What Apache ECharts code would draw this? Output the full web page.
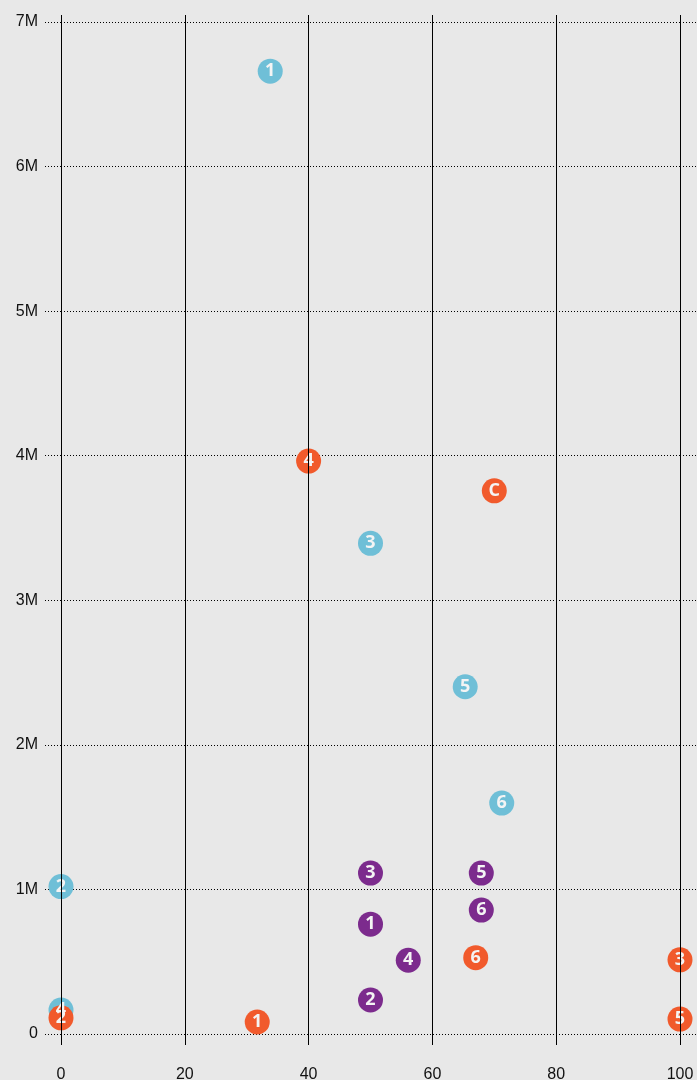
<!DOCTYPE html>
<html>
<head>
<meta charset="utf-8">
<script src="https://cdn.jsdelivr.net/npm/echarts@6/dist/echarts.min.js"></script>
<style>
html,body{margin:0;padding:0;background:#e8e8e8;}
#c{width:697px;height:1080px;}
</style>
</head>
<body>
<div id="c"></div>
<script>
// Data
const xTicks = [0, 20, 40, 60, 80, 100];
const yTickLabels = ['0', '1M', '2M', '3M', '4M', '5M', '6M', '7M'];

const blueNames = ['1', '2', '3', '4', '5', '6'];
const blueX = [33.8, 0, 50, 0, 65.3, 71.2];
const blueY = [6660000, 1020000, 3394000, 166000, 2402000, 1597000];

const purpleNames = ['1', '2', '3', '4', '5', '6'];
const purpleX = [50, 50, 50, 56.1, 67.9, 67.9];
const purpleY = [760000, 235000, 1113000, 510000, 1113000, 857000];

const orangeNames = ['1', '2', '3', '4', '5', '6', 'C'];
const orangeX = [31.7, 0, 100, 40, 100, 67, 70];
const orangeY = [83000, 112000, 513000, 3963000, 103000, 528000, 3757000];

function pts(names, xs, ys) {
  return names.map((n, i) => ({ name: n, value: [xs[i], ys[i]] }));
}

const chart = echarts.init(document.getElementById('c'));
const font = 'Liberation Sans, Arial, sans-serif';

function mkSeries(names, xs, ys, color) {
  return {
    type: 'scatter',
    data: pts(names, xs, ys),
    symbol: 'circle',
    symbolSize: 25,
    itemStyle: { color: color, opacity: 1 },
    label: {
      show: true,
      position: 'inside',
      formatter: p => p.name,
      color: '#f4f4f4',
      fontFamily: 'Open Sans, sans-serif',
      fontWeight: 'bold',
      fontSize: 18
    },
    emphasis: { disabled: true },
    z: 2
  };
}

chart.setOption({
  backgroundColor: '#e8e8e8',
  animation: false,
  grid: { left: 61, right: 17, top: 22, bottom: 46, containLabel: false, outerBoundsMode: 'none' },
  xAxis: [
    {
      type: 'value', min: 0, max: 100, interval: 20, position: 'bottom', z: 3,
      axisLine: { show: false, onZero: false },
      axisTick: { show: true, length: 11, lineStyle: { color: '#000', width: 1 } },
      axisLabel: { margin: 33, fontSize: 16, color: '#111', fontFamily: font },
      splitLine: { show: true, lineStyle: { color: '#000', width: 1, type: 'solid' } }
    },
    {
      type: 'value', min: 0, max: 100, interval: 20, position: 'top', z: 3,
      axisLine: { show: false, onZero: false },
      axisTick: { show: true, length: 7, lineStyle: { color: '#000', width: 1 } },
      axisLabel: { show: false },
      splitLine: { show: false }
    }
  ],
  yAxis: [
    {
      type: 'value', min: 0, max: 7000000, interval: 1000000, position: 'left', z: 0,
      axisLine: { show: false, onZero: false },
      axisTick: { show: true, length: 17, lineStyle: { color: '#000', width: 1, type: [1, 2] } },
      axisLabel: {
        margin: 23, fontSize: 16, color: '#111', fontFamily: font,
        formatter: v => yTickLabels[Math.round(v / 1000000)]
      },
      splitLine: { show: true, lineStyle: { color: '#000', width: 1, type: [1, 2] } }
    },
    {
      type: 'value', min: 0, max: 7000000, interval: 1000000, position: 'right', z: 0,
      axisLine: { show: false, onZero: false },
      axisTick: { show: true, length: 17, lineStyle: { color: '#000', width: 1, type: [1, 2] } },
      axisLabel: { show: false },
      splitLine: { show: false }
    }
  ],
  series: [
    mkSeries(blueNames, blueX, blueY, '#6fbfd7'),
    mkSeries(purpleNames, purpleX, purpleY, '#7c2b8d'),
    mkSeries(orangeNames, orangeX, orangeY, '#f15a2c')
  ]
});
</script>
</body>
</html>
